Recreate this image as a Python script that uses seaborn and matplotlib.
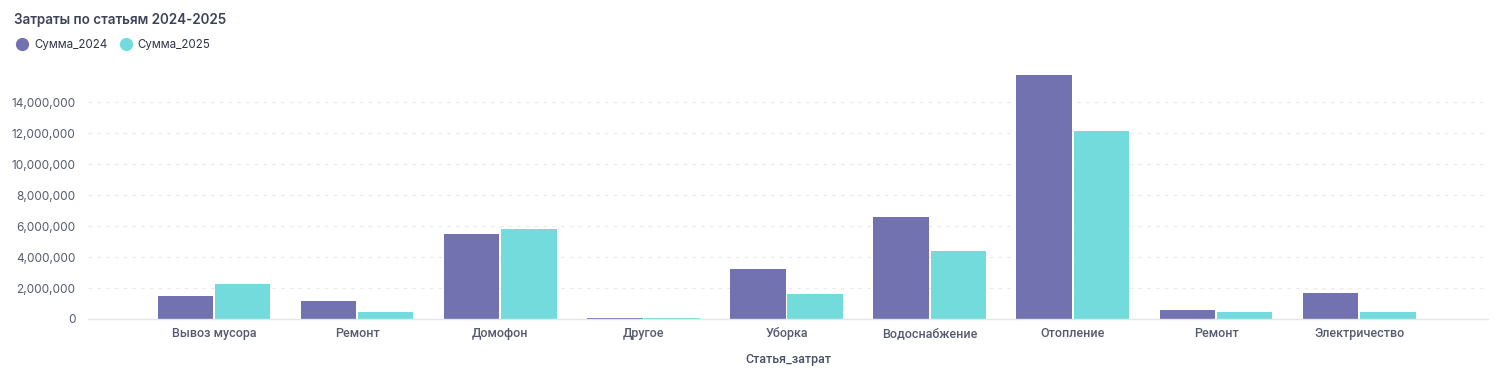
import pandas as pd
import seaborn as sns
import matplotlib.pyplot as plt
from matplotlib.ticker import FuncFormatter
from matplotlib.lines import Line2D

categories = ['Вывоз мусора', 'Ремонт', 'Домофон', 'Другое', 'Уборка',
              'Водоснабжение', 'Отопление', 'Ремонт', 'Электричество']
sum_2024 = [1480000, 1160000, 5480000, 60000, 3230000, 6580000, 15740000, 580000, 1680000]
sum_2025 = [2260000, 450000, 5800000, 40000, 1600000, 4390000, 12130000, 450000, 450000]
series = ['Сумма_2024', 'Сумма_2025']
colors = ['#7272b0', '#73dbdb']

# two categories share the name "Ремонт", so bars are placed by position and labelled later
keys = [str(i) for i in range(len(categories))]
df = pd.DataFrame({'key': keys * 2,
                   'series': [series[0]] * len(keys) + [series[1]] * len(keys),
                   'value': sum_2024 + sum_2025})

sns.set_style('white')
plt.rcParams['font.family'] = ['Inter', 'DejaVu Sans']

fig = plt.figure(figsize=(15.11, 3.71), dpi=100)
ax = fig.add_axes([0.0582, 0.1402, 0.9266, 0.689])

sns.barplot(data=df, x='key', y='value', hue='series', order=keys,
            palette=colors, saturation=1, width=0.8, gap=0.03, linewidth=0,
            legend=False, ax=ax)

ax.set_xlim(-0.88, 8.9)
ax.set_ylim(0, 16500000)
ax.set_yticks(range(0, 16000000, 2000000))
ax.yaxis.set_major_formatter(FuncFormatter(lambda v, p: f'{int(v):,}'))
ax.set_xticks(range(len(categories)))
ax.set_xticklabels(categories, family=['Roboto', 'DejaVu Sans'], fontsize=9,
                   fontweight='medium')
ax.tick_params(axis='y', length=0, labelsize=8.5, colors='#555b6e', pad=9)
ax.tick_params(axis='x', length=0, colors='#555b6e', pad=6)
ax.grid(axis='y', color='#ebebee', linestyle=(0, (3, 4)), linewidth=0.9)
ax.set_axisbelow(True)
for s in ['left', 'right', 'top']:
    ax.spines[s].set_visible(False)
ax.spines['bottom'].set_color('#e6e6ea')
ax.spines['bottom'].set_linewidth(1.0)

ax.set_xlabel('Статья_затрат', fontsize=9, color='#4a5063', fontweight='medium',
              family=['Roboto', 'DejaVu Sans'], labelpad=9)
ax.set_ylabel('')

fig.text(0.0093, 0.945, 'Затраты по статьям 2024-2025', fontsize=9.7,
         fontweight='semibold', color='#3c4358', va='center')

handles = [Line2D([], [], marker='o', linestyle='', markersize=8.5,
                  markerfacecolor=c, markeredgecolor=c) for c in colors]
fig.legend(handles, series, loc='center left', bbox_to_anchor=(0.0, 0.878),
           ncol=2, frameon=False, fontsize=8.3, handletextpad=0.05,
           columnspacing=0.6, labelcolor='#2f3547')

fig.savefig('out.png', dpi=100, facecolor='white')
